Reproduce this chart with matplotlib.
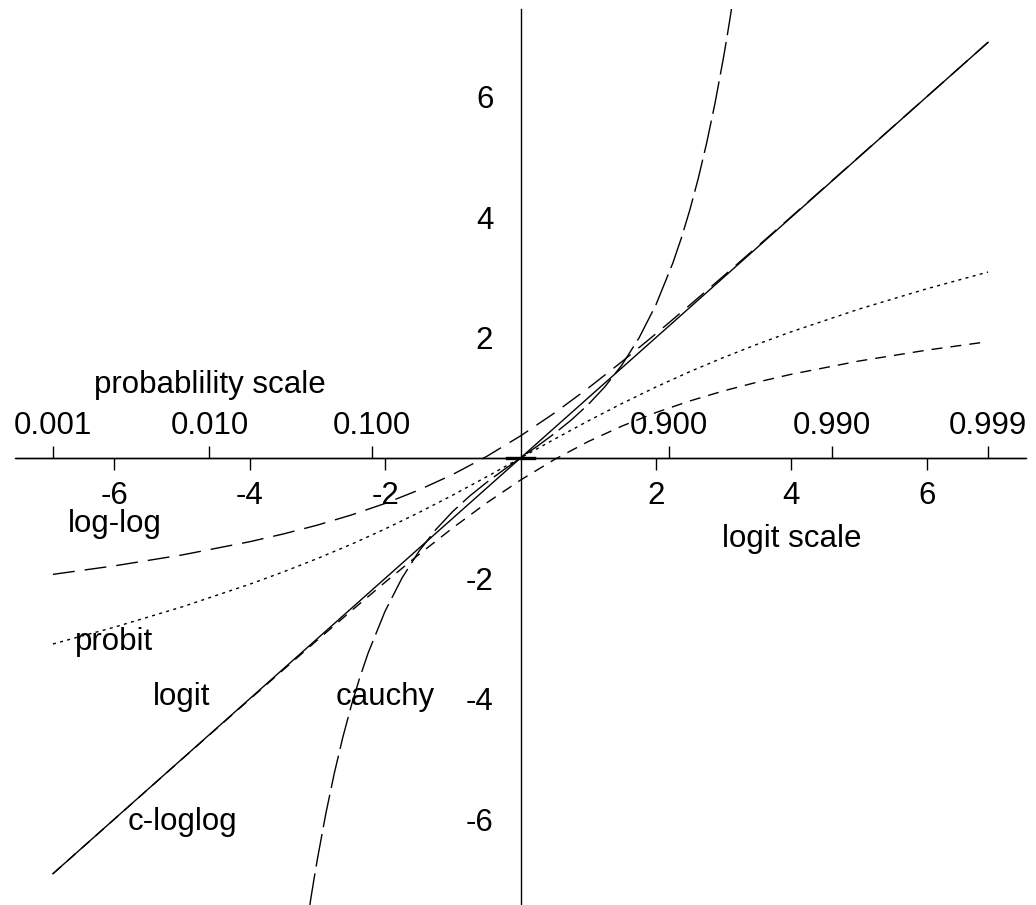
# link functions plotted against the logit scale

import numpy as np
import matplotlib
matplotlib.use("Agg")
from matplotlib import pyplot as plt

plt.rcParams['font.family'] = ['Liberation Sans', 'DejaVu Sans']
plt.rcParams['lines.scale_dashes'] = False

# logit values (x axis) where the curves were read
x_pts = [-6.907, -6, -5, -4, -3.5, -3, -2.5, -2, -1.5, -1, -0.5, 0,
         0.5, 1, 1.5, 2, 2.5, 3, 3.5, 4, 5, 6, 6.907]

logit_x = [-6.907, 6.907]
logit_y = [-6.907, 6.907]

probit_y = [-3.090, -2.811, -2.474, -2.097, -1.891, -1.670, -1.434, -1.179,
            -0.906, -0.616, -0.312, 0.0, 0.312, 0.616, 0.906, 1.179, 1.434,
            1.670, 1.891, 2.097, 2.474, 2.811, 3.090]

cloglog_y = [-6.907, -6.001, -5.003, -4.009, -3.515, -3.024, -2.540, -2.064,
             -1.602, -1.161, -0.746, -0.367, -0.026, 0.273, 0.531, 0.755,
             0.947, 1.115, 1.261, 1.391, 1.611, 1.792, 1.933]

loglog_y = [-1.933, -1.792, -1.611, -1.391, -1.261, -1.115, -0.947, -0.755,
            -0.531, -0.273, 0.026, 0.367, 0.746, 1.161, 1.602, 2.064, 2.540,
            3.024, 3.515, 4.009, 5.003, 6.001, 6.907]

cauchy_x = [-3.2, -3.1, -3.05, -3.0, -2.875, -2.75, -2.625, -2.5, -2.375,
            -2.25, -2.0, -1.75, -1.5, -1.25, -1.0, -0.75, -0.5, -0.25, 0.0,
            0.25, 0.5, 0.75, 1.0, 1.25, 1.5, 1.75, 2.0, 2.25, 2.375, 2.5,
            2.625, 2.75, 2.875, 3.0, 3.05, 3.1, 3.2]
cauchy_y = [-8.086, -7.339, -6.992, -6.662, -5.904, -5.234, -4.641, -4.116,
            -3.651, -3.238, -2.544, -1.993, -1.550, -1.188, -0.888, -0.631,
            -0.405, -0.198, 0.0, 0.198, 0.405, 0.631, 0.888, 1.188, 1.550,
            1.993, 2.544, 3.238, 3.651, 4.116, 4.641, 5.234, 5.904, 6.662,
            6.992, 7.339, 8.086]

logit_ticks = [-6, -4, -2, 2, 4, 6]
logit_labels = ['-6', '-4', '-2', '2', '4', '6']
prob_ticks = [0.001, 0.01, 0.1, 0.9, 0.99, 0.999]
prob_labels = ['0.001', '0.010', '0.100', '0.900', '0.990', '0.999']


def to_prob(x):
    return 1.0 / (1.0 + np.exp(-np.asarray(x, dtype=float)))


def to_logit(p):
    p = np.clip(np.asarray(p, dtype=float), 1e-12, 1 - 1e-12)
    return np.log(p / (1 - p))


fig = plt.figure(figsize=(10.36, 9.05), dpi=100)
ax = fig.add_axes([15.5 / 1036, -2.0 / 905, 1010 / 1036, 898 / 905])
ax.set_xlim(-7.46, 7.46)
ax.set_ylim(-7.46, 7.46)

lw = 1.0
ax.plot(logit_x, logit_y, color='black', lw=lw)
ax.plot(x_pts, probit_y, color='black', lw=lw, dashes=(2.2, 3.1))
ax.plot(x_pts, cloglog_y, color='black', lw=lw, dashes=(7.9, 5.8))
ax.plot(x_pts, loglog_y, color='black', lw=lw, dashes=(15.8, 7.2))
ax.plot(cauchy_x, cauchy_y, color='black', lw=lw, dashes=(23.8, 5.0))
ax.plot([-0.2, 0.2], [0, 0], color='black', lw=2.4)

# axes crossing at the origin
for side in ['top', 'right']:
    ax.spines[side].set_visible(False)
ax.spines['bottom'].set_position(('data', 0))
ax.spines['left'].set_position(('data', 0))
ax.spines['bottom'].set_linewidth(lw)
ax.spines['left'].set_linewidth(lw)

ax.set_xticks(logit_ticks, labels=logit_labels)
ax.set_yticks(logit_ticks, labels=logit_labels)
ax.tick_params(axis='x', direction='out', length=8.6, width=lw, pad=8.2,
               labelsize=22.5)
ax.tick_params(axis='y', length=0, pad=19.6, labelsize=22.5)

# probability scale on top of the x axis
sec = ax.secondary_xaxis(0.5, functions=(to_prob, to_logit))
sec.set_xticks(prob_ticks, labels=prob_labels)
sec.tick_params(direction='out', length=8.6, width=lw, pad=3.9,
                labelsize=22.5)
for s in sec.spines.values():
    s.set_linewidth(lw)

fs = 22.5
ax.text(-4.59, 1.22, 'probablility scale', fontsize=fs, ha='center', va='center')
ax.text(4.0, -1.35, 'logit scale', fontsize=fs, ha='center', va='center')
ax.text(-6.0, -1.09, 'log-log', fontsize=fs, ha='center', va='center')
ax.text(-6.0, -3.05, 'probit', fontsize=fs, ha='center', va='center')
ax.text(-5.0, -3.97, 'logit', fontsize=fs, ha='center', va='center')
ax.text(-2.0, -3.97, 'cauchy', fontsize=fs, ha='center', va='center')
ax.text(-5.0, -6.05, 'c-loglog', fontsize=fs, ha='center', va='center')

fig.savefig('out.png', dpi=100)
